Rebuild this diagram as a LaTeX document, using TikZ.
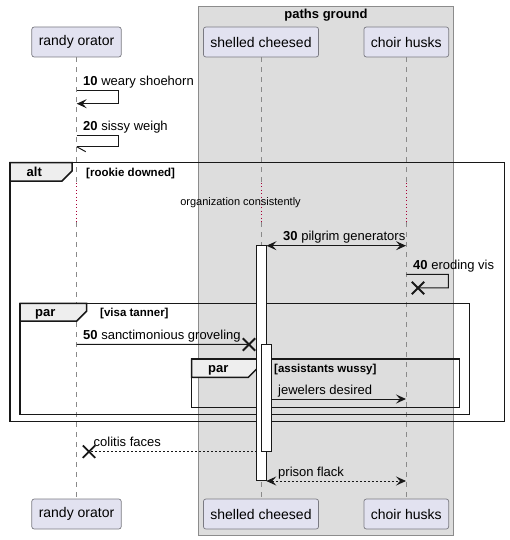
\documentclass[tikz,border=0pt]{standalone}
\usepackage{fontspec}
\setmainfont{Liberation Sans}
\usetikzlibrary{arrows.meta,shapes.misc}

\definecolor{partfill}{HTML}{E2E2F0}
\definecolor{partedge}{HTML}{7A7A82}
\definecolor{grpfill}{HTML}{DDDDDD}
\definecolor{grpedge}{HTML}{8C8C8C}
\definecolor{tabfill}{HTML}{EEEEEE}
\definecolor{delayred}{HTML}{A80036}
\definecolor{ink}{HTML}{181818}
\definecolor{lifegray}{HTML}{8A8A8A}

\tikzset{
  ah/.tip={Stealth[length=10pt,width=9pt,inset=4pt]},
  part/.style={draw=partedge, fill=partfill, rounded corners=2.5pt, line width=0.7pt,
    minimum height=30pt, inner xsep=7pt, inner ysep=0pt, font=\fontsize{14}{16}\selectfont},
  life/.style={draw=lifegray, line width=0.7pt, dash pattern=on 5pt off 5pt},
  delayline/.style={draw=delayred, line width=0.9pt, dash pattern=on 1pt off 2.5pt},
  grpbox/.style={draw=grpedge, fill=grpfill, line width=0.8pt},
  grptitle/.style={anchor=base, inner sep=0pt, font=\fontsize{13}{15}\selectfont\bfseries},
  frame/.style={draw=ink, line width=1.5pt},
  tabshape/.style={draw=ink, fill=tabfill, line width=1.5pt},
  tablabel/.style={anchor=base west, inner sep=0pt, font=\fontsize{13}{15}\selectfont\bfseries},
  guard/.style={anchor=base west, inner sep=0pt, font=\fontsize{11.5}{13}\selectfont\bfseries},
  msgtext/.style={anchor=base west, inner sep=0pt, font=\fontsize{13}{15}\selectfont},
  notetext/.style={anchor=center, inner sep=0pt, font=\fontsize{11}{13}\selectfont},
  msg/.style={draw=ink, line width=1pt},
  retmsg/.style={draw=ink, line width=0.9pt, dash pattern=on 2pt off 2pt},
  actbar/.style={draw=ink, fill=white, line width=0.9pt},
  destroy/.style={draw=ink, cross out, line width=1.8pt, minimum size=10.5pt, inner sep=0pt},
}

\begin{document}
\begin{tikzpicture}[x=1pt,y=-1pt]
\useasboundingbox (0,0) rectangle (509,540);

% box grouping the two right-hand participants
\draw[grpbox] (198.3,6) rectangle (453.5,535);
\node[grptitle] (gtitle) at (326,18.5) {paths ground};

% participants, top and bottom
\node[part] (ro)  at (76.5,42)  {randy orator};
\node[part] (sc)  at (261,42)   {shelled cheesed};
\node[part] (ch)  at (406.3,42) {choir husks};
\node[part] (rob) at (76.5,514) {randy orator};
\node[part] (scb) at (261,514)  {shelled cheesed};
\node[part] (chb) at (406.3,514){choir husks};

% lifelines, dotted through the delay
\coordinate (dtop) at (0,182.5);
\coordinate (dbot) at (0,222);
\foreach \p/\q in {ro/rob, sc/scb, ch/chb} {
  \draw[life] (\p.south) -- (\p.south |- dtop);
  \draw[delayline] (\p.south |- dtop) -- (\p.south |- dbot);
  \draw[life] (\p.south |- dbot) -- (\q.north);
}
\node[notetext] (delay) at (240.5,202.5) {organization consistently};

% alt frame
\draw[frame] (10,162.7) rectangle (504.3,421.7);
\draw[tabshape] (10,162.7) -- (72,162.7) -- (72,171) -- (62,181) -- (10,181) -- cycle;
\node[tablabel] (altlbl) at (26.5,176.5) {alt};
\node[guard] (altg) at (86,176.5) {[rookie downed]};

% outer par frame
\draw[frame] (20,303.3) rectangle (469.3,414.3);
\draw[tabshape] (20,303.3) -- (86.7,303.3) -- (86.7,311) -- (76.7,321) -- (20,321) -- cycle;
\node[tablabel] (par1lbl) at (35,316.5) {par};
\node[guard] (par1g) at (100,316.5) {[visa tanner]};

% inner par frame
\draw[frame] (191.7,359) rectangle (459.3,407.7);
\draw[tabshape] (191.7,359) -- (258.7,359) -- (258.7,367) -- (248.3,377.3) -- (191.7,377.3) -- cycle;
\node[tablabel] (par2lbl) at (208,372.5) {par};
\node[guard] (par2g) at (274,372.5) {[assistants wussy]};

% activation bars
\draw[actbar] (256.7,245.2) rectangle (266,480.7);
\draw[actbar] (261.3,344.3) rectangle (271.3,451);

% 10 weary shoehorn (self message)
\coordinate (m10a) at (76.7,90.7);
\coordinate (m10b) at (76.7,103.7);
\draw[msg,-ah] (m10a) -- ++(41.5,0) -- ++(0,13) -- (m10b);
\node[msgtext] (t10) at (83,85.5) {\textbf{10} weary shoehorn};

% 20 sissy weigh (self message, half arrowhead)
\coordinate (m20a) at (76.7,135.7);
\coordinate (m20b) at (76.7,146.7);
\draw[msg] (m20a) -- ++(41.5,0) -- ++(0,11) -- (m20b);
\draw[msg] (m20b) -- ++(9,5);
\node[msgtext] (t20) at (83,130.5) {\textbf{20} sissy weigh};

% 30 pilgrim generators
\coordinate (m30a) at (266.5,245.7);
\coordinate (m30b) at (406,245.7);
\draw[msg,ah-ah] (m30a) -- (m30b);
\node[msgtext] (t30) at (283,240.5) {\textbf{30} pilgrim generators};

% 40 eroding vis (self message ending in destruction)
\coordinate (m40a) at (406.3,274.3);
\node[destroy] (x40) at (418,288) {};
\draw[msg] (m40a) -- ++(42,0) -- ++(0,13.5) -- (x40.center);
\node[msgtext] (t40) at (413,269) {\textbf{40} eroding vis};

% 50 sanctimonious groveling
\coordinate (m50a) at (76.7,344.3);
\node[destroy] (x50) at (249,344.5) {};
\draw[msg] (m50a) -- (x50.center);
\node[msgtext] (t50) at (83,339) {\textbf{50} sanctimonious groveling};

% jewelers desired
\coordinate (mjda) at (271.3,399);
\coordinate (mjdb) at (406,399);
\draw[msg,-ah] (mjda) -- (mjdb);
\node[msgtext] (tjd) at (278,394) {jewelers desired};

% colitis faces (return)
\coordinate (mcfa) at (256.5,451.7);
\node[destroy] (xcf) at (89,451.7) {};
\draw[retmsg] (mcfa) -- (xcf.center);
\node[msgtext] (tcf) at (93.5,446.2) {colitis faces};

% prison flack (return, both ways)
\coordinate (mpfa) at (266.3,481);
\coordinate (mpfb) at (406,481);
\draw[retmsg,ah-ah] (mpfa) -- (mpfb);
\node[msgtext] (tpf) at (278,476) {prison flack};

\end{tikzpicture}
\end{document}
